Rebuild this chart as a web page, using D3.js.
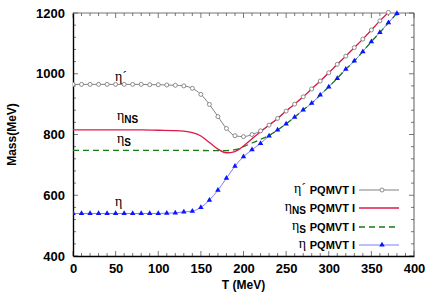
<!DOCTYPE html>
<html>
<head>
<meta charset="utf-8">
<script src="https://cdn.jsdelivr.net/npm/d3@7"></script>
<style>
  body { margin: 0; background: #fff; }
  text { font-family: Arial, "Liberation Sans", sans-serif; }
</style>
</head>
<body>
<script>
const WIDTH = 436;
const HEIGHT = 305;
const MARGIN = {left: 73, right: 22, top: 13, bottom: 49};

// eta prime (gray, open circles)
const tEtaPrime = [0, 10, 20, 30, 40, 50, 60, 70, 80, 90, 100, 110, 120, 130, 140, 150, 160, 170, 180, 190,
    200, 210, 220, 230, 240, 250, 260, 270, 280, 290, 300, 310, 320, 330, 340, 350, 360, 370];
const mEtaPrime = [965, 965, 965, 965, 965, 965, 965, 965, 965, 964, 964, 963, 962, 960, 952, 932, 899, 859, 820, 796,
    793, 800, 812, 831, 853, 877, 900, 924, 950, 976, 1003, 1031, 1058, 1086, 1114, 1144, 1174, 1202];

// eta NS (red solid)
const tEtaNS = [0, 20, 40, 60, 80, 100, 120, 130, 140, 150, 160, 170, 180, 190, 200, 210, 220, 230, 240,
    250, 260, 270, 280, 290, 300, 310, 320, 330, 340, 350, 360, 370];
const mEtaNS = [815, 815, 815, 815, 815, 814, 813, 811, 806, 795, 774, 752, 740, 744, 762, 786, 809, 831, 853,
    877, 900, 924, 950, 976, 1003, 1031, 1058, 1086, 1114, 1144, 1174, 1202];

// eta S (green dashed)
const tEtaS = [0, 20, 40, 60, 80, 100, 120, 140, 160, 180, 190, 200, 210, 220, 230, 240, 250, 260, 270,
    280, 290, 300, 310, 320, 330, 340, 350, 360, 370, 380];
const mEtaS = [748, 748, 748, 748, 748, 748, 748, 748, 747, 747, 750, 760, 772, 784, 797, 815, 835, 857, 881,
    903, 930, 957, 985, 1015, 1042, 1073, 1106, 1136, 1168, 1199];

// eta (blue, filled triangles)
const tEta = [0, 10, 20, 30, 40, 50, 60, 70, 80, 90, 100, 110, 120, 130, 140, 150, 160, 170, 180, 190,
    200, 210, 220, 230, 240, 250, 260, 270, 280, 290, 300, 310, 320, 330, 340, 350, 360, 370, 380];
const mEta = [540, 540, 540, 540, 540, 540, 540, 540, 540, 540, 540, 541, 542, 545, 548, 560, 584, 617, 656, 696,
    727, 750, 771, 795, 815, 835, 857, 881, 903, 930, 957, 985, 1015, 1042, 1073, 1106, 1136, 1168, 1199];

const xTicks = [0, 50, 100, 150, 200, 250, 300, 350, 400];
const yTicks = [400, 600, 800, 1000, 1200];
const legendLabel = 'PQMVT I';

const svg = d3.select('body')
    .append('svg')
    .attr('width', WIDTH)
    .attr('height', HEIGHT);

const x = d3.scaleLinear().domain([0, 400]).range([MARGIN.left, WIDTH - MARGIN.right]);
const y = d3.scaleLinear().domain([400, 1200]).range([HEIGHT - MARGIN.bottom, MARGIN.top]);

svg.append('defs').append('clipPath')
    .attr('id', 'plot-clip')
    .append('rect')
    .attr('x', x(0)).attr('y', y(1200) - 3)
    .attr('width', x(400) - x(0)).attr('height', y(400) - y(1200) + 3);

// frame: left/bottom black, top/right gray
svg.append('line').attr('x1', x(0)).attr('x2', x(400)).attr('y1', y(1200)).attr('y2', y(1200))
    .attr('stroke', '#777').attr('stroke-width', 1.2);
svg.append('line').attr('x1', x(400)).attr('x2', x(400)).attr('y1', y(400)).attr('y2', y(1200))
    .attr('stroke', '#777').attr('stroke-width', 1.2);

// inward ticks on all sides
const xMinor = d3.range(0, 401, 10);
const yMinor = d3.range(400, 1201, 40);
const tickG = svg.append('g').attr('stroke', '#555').attr('stroke-width', 0.8);
xMinor.forEach(v => {
    const len = v % 50 === 0 ? 5 : 3;
    tickG.append('line').attr('x1', x(v)).attr('x2', x(v)).attr('y1', y(400)).attr('y2', y(400) - len);
    tickG.append('line').attr('x1', x(v)).attr('x2', x(v)).attr('y1', y(1200)).attr('y2', y(1200) + len);
});
yMinor.forEach(v => {
    const len = v % 200 === 0 ? 5 : 3;
    tickG.append('line').attr('x1', x(0)).attr('x2', x(0) + len).attr('y1', y(v)).attr('y2', y(v));
    tickG.append('line').attr('x1', x(400)).attr('x2', x(400) - len).attr('y1', y(v)).attr('y2', y(v));
});

const xAxis = svg.append('g')
    .attr('transform', `translate(0,${y(400)})`)
    .call(d3.axisBottom(x).tickValues(xTicks).tickSize(0).tickPadding(8));
const yAxis = svg.append('g')
    .attr('transform', `translate(${x(0)},0)`)
    .call(d3.axisLeft(y).tickValues(yTicks).tickSize(0).tickPadding(8).tickFormat(d3.format('d')));
[xAxis, yAxis].forEach(a => {
    a.select('.domain').attr('stroke', '#000').attr('stroke-width', 1.4);
    a.selectAll('text').attr('font-size', 13).attr('font-weight', 'bold').attr('fill', '#000')
        .style('font-family', 'Arial, "Liberation Sans", sans-serif');
});

svg.append('text')
    .attr('x', (x(0) + x(400)) / 2).attr('y', 289)
    .attr('text-anchor', 'middle').attr('font-size', 12).attr('font-weight', 'bold')
    .text('T (MeV)');
svg.append('text')
    .attr('transform', `translate(16,${(y(400) + y(1200)) / 2}) rotate(-90)`)
    .attr('text-anchor', 'middle').attr('font-size', 12).attr('font-weight', 'bold')
    .text('Mass(MeV)');

const line = d3.line().curve(d3.curveMonotoneX).x(d => x(d[0])).y(d => y(d[1]));
const plot = svg.append('g').attr('clip-path', 'url(#plot-clip)');

const etaPrime = d3.zip(tEtaPrime, mEtaPrime);
const etaNS = d3.zip(tEtaNS, mEtaNS);
const etaS = d3.zip(tEtaS, mEtaS);
const eta = d3.zip(tEta, mEta);

plot.append('path').datum(etaPrime).attr('d', line)
    .attr('fill', 'none').attr('stroke', '#808080').attr('stroke-width', 1);
plot.append('path').datum(eta).attr('d', line)
    .attr('fill', 'none').attr('stroke', '#7c7cff').attr('stroke-width', 1);
plot.append('path').datum(etaS).attr('d', line)
    .attr('fill', 'none').attr('stroke', '#167a16').attr('stroke-width', 1.3)
    .attr('stroke-dasharray', '6,4');
plot.append('path').datum(etaNS).attr('d', line)
    .attr('fill', 'none').attr('stroke', '#e0184a').attr('stroke-width', 1.3);

const triangle = d3.symbol().type(d3.symbolTriangle).size(13);
plot.selectAll('.tri').data(eta).enter()
    .append('path').attr('class', 'tri')
    .attr('d', triangle)
    .attr('transform', d => `translate(${x(d[0])},${y(d[1])})`)
    .attr('fill', '#0a14ff');
plot.selectAll('.circ').data(etaPrime).enter()
    .append('circle').attr('class', 'circ')
    .attr('cx', d => x(d[0])).attr('cy', d => y(d[1])).attr('r', 2)
    .attr('fill', '#fff').attr('stroke', '#808080').attr('stroke-width', 0.9);

// greek labels, sans subscript
function greek(g, px, py, sub, prime, anchor) {
    const t = g.append('text').attr('x', px).attr('y', py).attr('font-size', 14)
        .attr('text-anchor', anchor || 'start')
        .style('font-family', '"Liberation Serif", "Times New Roman", serif');
    t.append('tspan').text('η' + (prime ? '´' : ''));
    if (sub) {
        t.append('tspan').attr('dy', 3).attr('font-size', 10).attr('font-weight', 'bold')
            .style('font-family', 'Arial, "Liberation Sans", sans-serif').text(sub);
    }
    return t;
}
greek(svg, 115, 81, null, true);
greek(svg, 117, 120, 'NS', false);
greek(svg, 117, 143, 'S', false);
greek(svg, 115, 206, null, false);

// legend
const legendRows = [
    {sub: null, prime: true, stroke: '#808080', width: 1, dash: null, marker: 'circle'},
    {sub: 'NS', prime: false, stroke: '#e0184a', width: 1.3, dash: null, marker: null},
    {sub: 'S', prime: false, stroke: '#167a16', width: 1.3, dash: '6,4', marker: null},
    {sub: null, prime: false, stroke: '#7c7cff', width: 1, dash: null, marker: 'tri'}
];
const legendY = [190, 208, 227, 245];
legendRows.forEach((r, i) => {
    const ly = legendY[i];
    const g = svg.append('g');
    g.append('text').attr('x', 355).attr('y', ly + 4).attr('text-anchor', 'end')
        .attr('font-size', 11).attr('font-weight', 'bold').text(legendLabel);
    greek(g, 306, ly + 3, r.sub, r.prime, 'end');
    g.append('line').attr('x1', 359).attr('x2', 399).attr('y1', ly).attr('y2', ly)
        .attr('stroke', r.stroke).attr('stroke-width', r.width)
        .attr('stroke-dasharray', r.dash);
    if (r.marker === 'circle') {
        g.append('circle').attr('cx', 382).attr('cy', ly).attr('r', 2)
            .attr('fill', '#fff').attr('stroke', '#808080').attr('stroke-width', 0.9);
    } else if (r.marker === 'tri') {
        g.append('path').attr('d', triangle).attr('transform', `translate(382,${ly})`).attr('fill', '#0a14ff');
    }
});
</script>
</body>
</html>
